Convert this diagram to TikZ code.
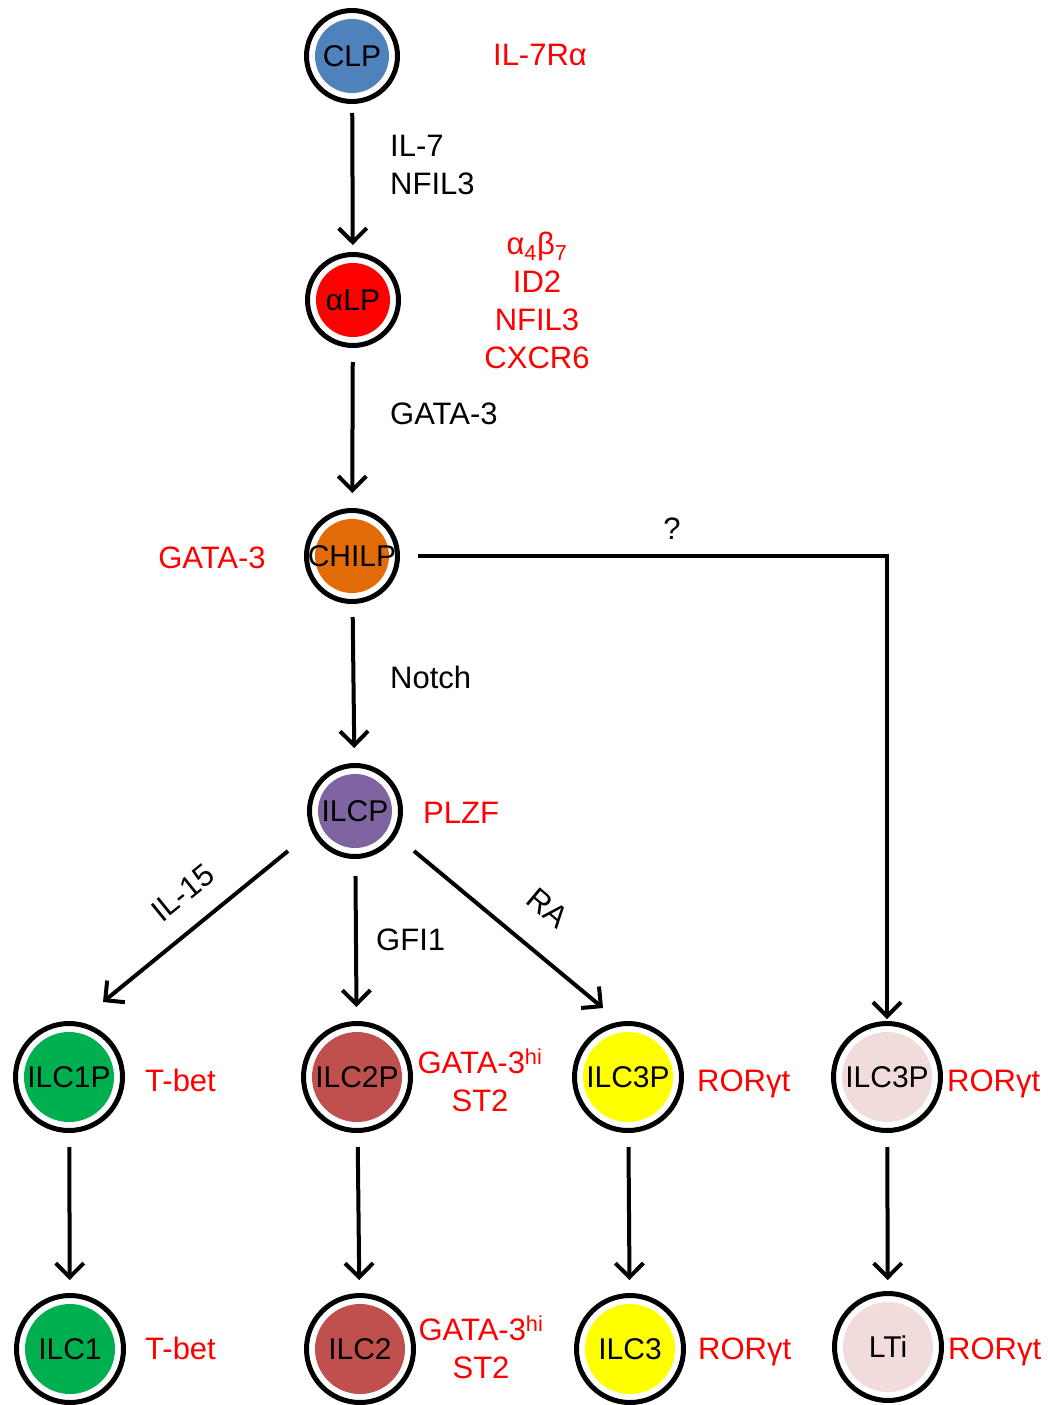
\documentclass[tikz,border=0pt]{standalone}
\usepackage{fontspec}
\setmainfont{Liberation Sans}
\usetikzlibrary{arrows.meta,calc}
\definecolor{cblue}{HTML}{4F81BD}
\definecolor{cred}{HTML}{FF0000}
\definecolor{corange}{HTML}{E36C09}
\definecolor{cpurple}{HTML}{8064A2}
\definecolor{cgreen}{HTML}{00B050}
\definecolor{cbrown}{HTML}{C0504D}
\definecolor{cyellow}{HTML}{FFFF00}
\definecolor{cpink}{HTML}{F2DCDB}
\tikzset{
  txt/.style={font=\fontsize{31}{38}\selectfont, inner sep=0pt},
  lab/.style={txt, text=cred},
  cellbase/.style={circle, draw=black, line width=5pt, fill=white, inner sep=0pt,
    font=\fontsize{30}{38}\selectfont},
  smallcell/.style={cellbase, minimum size=91pt,
    path picture={\fill[#1] (path picture bounding box.center) circle (37pt);}},
  bigcell/.style={cellbase, minimum size=107pt,
    path picture={\fill[#1] (path picture bounding box.center) circle (45pt);}},
  arr/.style={line width=4pt, -{Straight Barb[length=14pt,width=28pt]}}
}
\begin{document}
\begin{tikzpicture}[x=1pt,y=-1pt]
\useasboundingbox (0,0) rectangle (1048,1405);
% cells
\node[smallcell=cblue] (clp) at (352,56) {CLP};
\node[smallcell=cred] (alp) at (353,300) {αLP};
\node[smallcell=corange] (chilp) at (352,556) {CHILP};
\node[smallcell=cpurple] (ilcp) at (355,811) {ILCP};
\node[bigcell=cgreen] (ilc1p) at (69,1077) {ILC1P};
\node[bigcell=cbrown] (ilc2p) at (357,1077) {ILC2P};
\node[bigcell=cyellow] (ilc3p) at (628,1077) {ILC3P};
\node[bigcell=cpink] (ilc3pr) at (887,1077) {ILC3P};
\node[bigcell=cgreen] (ilc1) at (70,1349) {ILC1};
\node[bigcell=cbrown] (ilc2) at (360,1349) {ILC2};
\node[bigcell=cyellow] (ilc3) at (630,1349) {ILC3};
\node[bigcell=cpink] (lti) at (888,1347) {LTi};
% labels
\node[lab] (t1) at (540,55) {IL-7Rα};
\node[txt, anchor=west, align=left] (t2) at (390,165) {IL-7\\NFIL3};
\node[lab, align=center] (t3) at (537,300) {α\textsubscript{4}β\textsubscript{7}\\ID2\\NFIL3\\CXCR6};
\node[txt, anchor=base west] (t4) at (390,424) {GATA-3};
\node[lab, anchor=base] (t5) at (212,568) {GATA-3};
\node[txt, anchor=base] (t6) at (672,539) {?};
\node[txt, anchor=base west] (t7) at (390,688) {Notch};
\node[lab, anchor=base west] (t8) at (423,823) {PLZF};
\node[txt, rotate=39] (t9) at (183,893) {IL-15};
\node[txt, anchor=base west] (t10) at (376,950) {GFI1};
\node[txt, rotate=-40] (t11) at (548,908) {RA};
\node[lab, anchor=base west] (t12) at (145,1091) {T-bet};
\node[lab, align=center] (t13) at (480,1080) {GATA-3\textsuperscript{hi}\\ST2};
\node[lab, anchor=base west] (t14) at (697,1091) {RORγt};
\node[lab, anchor=base west] (t15) at (947,1091) {RORγt};
\node[lab, anchor=base west] (t16) at (145,1359) {T-bet};
\node[lab, align=center] (t17) at (481,1347) {GATA-3\textsuperscript{hi}\\ST2};
\node[lab, anchor=base west] (t18) at (698,1359) {RORγt};
\node[lab, anchor=base west] (t19) at (948,1359) {RORγt};
% connectors
\draw[arr, shorten <=9pt, shorten >=7pt] (clp) -- (alp);
\draw[arr, shorten <=14pt, shorten >=15pt] (alp) -- (chilp);
\draw[arr, shorten <=13pt, shorten >=15pt] (chilp) -- (ilcp);
\draw[arr, shorten <=18pt, shorten >=2pt] (chilp.east) -| (ilc3pr.north);
\draw[arr] ($(ilcp)+(-67,40)$) -- ($(ilc1p)+(34,-75)$);
\draw[arr, shorten <=17pt, shorten >=14pt] (ilcp) -- (ilc2p);
\draw[arr] ($(ilcp)+(59,40)$) -- ($(ilc3p)+(-25,-69)$);
\draw[arr, shorten <=14pt, shorten >=13pt] (ilc1p) -- (ilc1);
\draw[arr, shorten <=14pt, shorten >=13pt] (ilc2p) -- (ilc2);
\draw[arr, shorten <=14pt, shorten >=13pt] (ilc3p) -- (ilc3);
\draw[arr, shorten <=14pt, shorten >=11pt] (ilc3pr) -- (lti);
\end{tikzpicture}
\end{document}
